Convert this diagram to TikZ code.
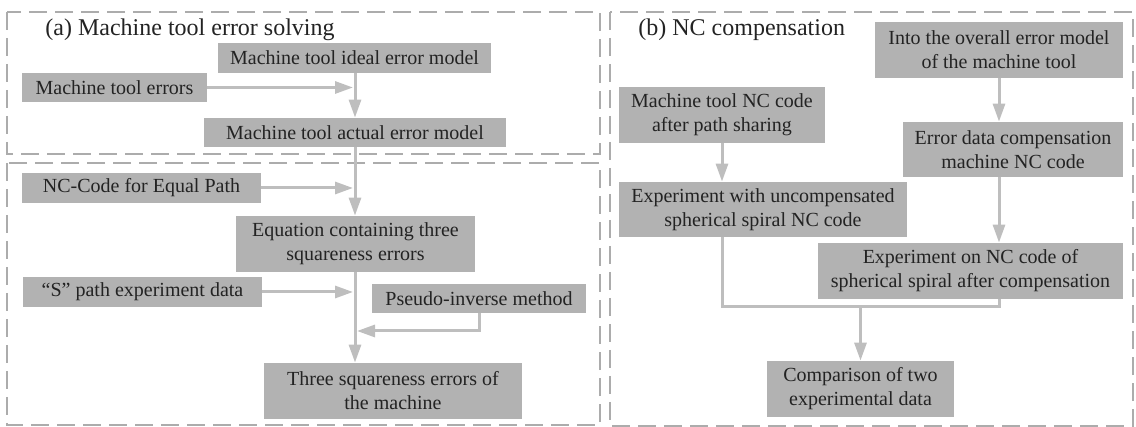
\documentclass[tikz,border=0pt]{standalone}
\usepackage{fontspec}
\setmainfont{Liberation Serif}[Ligatures=TeX]
\usepackage{tikz}
\usetikzlibrary{arrows.meta}
\definecolor{boxgray}{RGB}{178,178,178}
\definecolor{linegray}{RGB}{190,190,190}
\definecolor{dashgray}{RGB}{172,172,172}
\definecolor{textgray}{RGB}{35,35,35}

\begin{document}
\begin{tikzpicture}[x=0.5pt, y=-0.5pt,
  box/.style={fill=boxgray, text=textgray, inner sep=0pt, align=center, font=\rmfamily\fontsize{10}{12}\selectfont},
  sz/.style 2 args={minimum width=#1pt, minimum height=#2pt},
  panel/.style={draw=dashgray, line width=1pt, dash pattern=on 9pt off 4pt},
  link/.style={draw=linegray, line width=1.5pt},
  arr/.style={link, -{Triangle[length=9pt, width=6pt]}},
  title/.style={anchor=west, text=textgray, inner sep=0pt, font=\rmfamily\fontsize{12}{14}\selectfont}]
\useasboundingbox (0,0) rectangle (1136,427);
% panels
\foreach \xa/\ya/\xb/\yb in {7/12/600/154, 7/163/600/425, 610/12/1133/426}
  \draw[panel] (\xa,\ya) rectangle (\xb,\yb);
\node[title] (ta) at (45,30) {(a) Machine tool error solving};
\node[title] (tb) at (638,30) {(b) NC compensation};
% boxes (a)
\node[box, sz={136.5}{15}] (a1) at (354.5,58) {Machine tool ideal error model};
\node[box, sz={92.5}{14.5}] (a2) at (114.5,87.5) {Machine tool errors};
\node[box, sz={151}{14.5}] (a3) at (355,132.5) {Machine tool actual error model};
\node[box, sz={119.5}{15}] (a4) at (141.5,188) {NC-Code for Equal Path};
\node[box, sz={119.5}{28}] (a5) at (355.5,244) {Equation containing three\\squareness errors};
\node[box, sz={119.5}{15}] (a6) at (142.5,292) {``S'' path experiment data};
\node[box, sz={107}{14.5}] (a7) at (479,298.5) {Pseudo-inverse method};
\node[box, sz={129}{28}] (a8) at (393,391) {Three squareness errors of\\the machine};
% boxes (b)
\node[box, sz={124}{28}] (b1) at (999,50) {Into the overall error model\\of the machine tool};
\node[box, sz={110}{27.5}] (b2) at (1013,149.5) {Error data compensation\\machine NC code};
\node[box, sz={103}{28}] (b3) at (722,115) {Machine tool NC code\\after path sharing};
\node[box, sz={144}{27.5}] (b4) at (763,209.5) {Experiment with uncompensated\\spherical spiral NC code};
\node[box, sz={152.5}{28}] (b5) at (970.5,271) {Experiment on NC code of\\spherical spiral after compensation};
\node[box, sz={93.5}{28}] (b6) at (860.5,389) {Comparison of two\\experimental data};
\coordinate (fb) at (357,331);
\coordinate (m) at (860.5,307);
% edges (a)
\draw[arr] (a1.south -| a3.north) -- (a3.north);
\draw[arr, shorten >=1pt] (a2.east) -- (a2.east -| a3.north);
\draw[arr] (a3.south) -- (a3.south |- a5.north);
\draw[arr, shorten >=1pt] (a4.east) -- (a4.east -| a3.south);
\draw[arr] (a3.south |- a5.south) -- (a3.south |- a8.north);
\draw[arr, shorten >=1pt] (a6.east) -- (a6.east -| a3.south);
\draw[arr] (a7.south) |- (fb);
% edges (b)
\draw[arr] (b1.south) -- (b1.south |- b2.north);
\draw[arr] (b3.south) -- (b3.south |- b4.north);
\draw[arr] (b1.south |- b2.south) -- (b1.south |- b5.north);
\draw[link] (b3.south |- b4.south) |- (m) -| (b1.south |- b5.south);
\draw[arr] (m) -- (b6.north);
\end{tikzpicture}
\end{document}
